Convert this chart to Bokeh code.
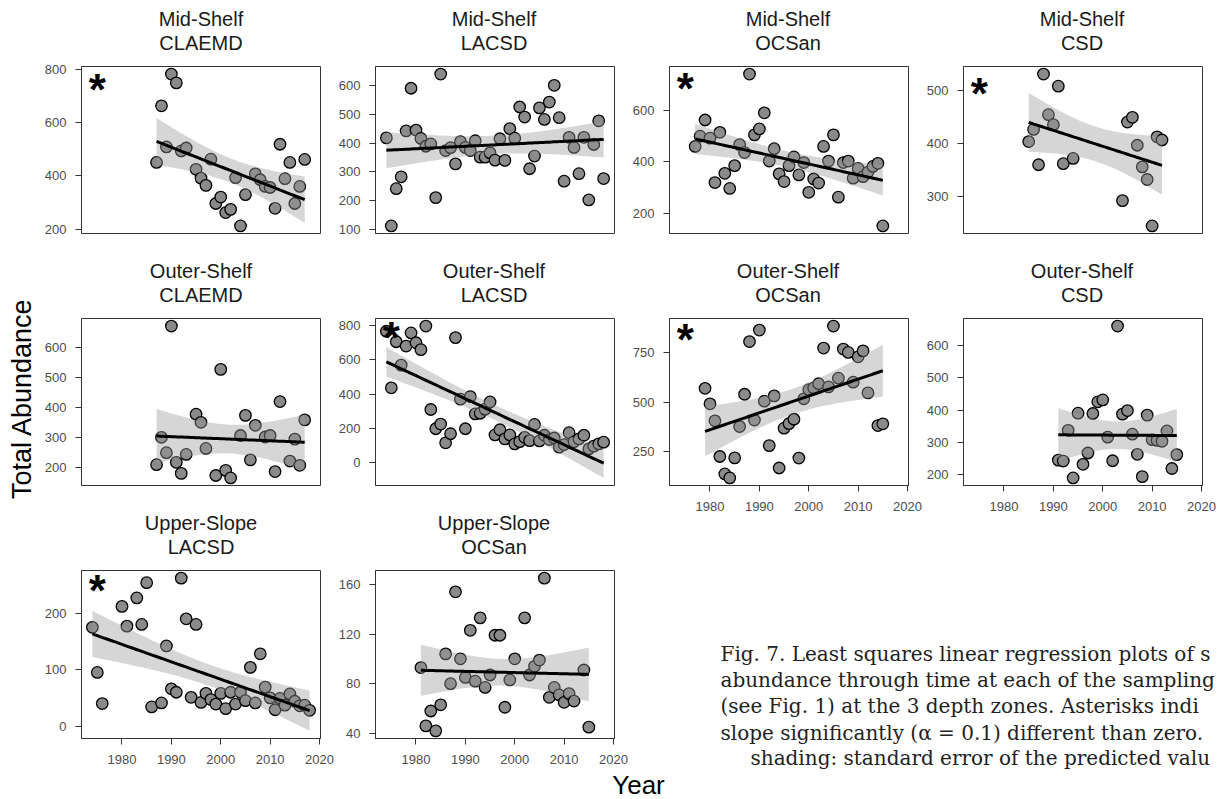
import numpy as np
from bokeh.plotting import figure
from bokeh.models import Range1d, FixedTicker
from bokeh.layouts import row, column
from bokeh.embed import file_html
from bokeh.resources import INLINE
from bokeh.core.properties import value

# ---------------- data: total abundance by year ----------------
ms_claemd_year = [1987, 1988, 1989, 1990, 1991, 1992, 1993, 1995, 1996, 1997, 1998, 1999, 2000, 2001,
                  2002, 2003, 2004, 2005, 2007, 2008, 2009, 2010, 2011, 2012, 2013, 2014, 2015, 2016, 2017]
ms_claemd_abund = [450, 662, 508, 781, 748, 493, 504, 424, 391, 364, 462, 296, 320, 262,
                   274, 393, 212, 329, 407, 385, 360, 356, 278, 518, 389, 450, 296, 360, 461]

ms_lacsd_year = list(range(1974, 2019))
ms_lacsd_abund = [418, 113, 242, 283, 442, 590, 445, 416, 389, 397, 211, 639, 374, 384, 328,
                  405, 385, 374, 408, 351, 351, 366, 341, 415, 340, 450, 417, 525, 490, 311,
                  355, 522, 482, 542, 600, 488, 268, 420, 385, 294, 420, 203, 395, 477, 277]

ms_ocsan_year = list(range(1977, 2016))
ms_ocsan_abund = [460, 500, 563, 492, 319, 515, 355, 296, 385, 467, 436, 742, 505, 528, 591,
                  403, 451, 353, 323, 385, 419, 349, 397, 281, 333, 317, 460, 403, 505, 262,
                  397, 403, 336, 374, 342, 360, 382, 394, 150]

ms_csd_year = [1985, 1986, 1987, 1988, 1989, 1990, 1991, 1992, 1994,
               2004, 2005, 2006, 2007, 2008, 2009, 2010, 2011, 2012]
ms_csd_abund = [404, 427, 360, 532, 455, 436, 509, 362, 372,
                292, 441, 450, 397, 356, 332, 244, 413, 407]

os_claemd_year = [1987, 1988, 1989, 1990, 1991, 1992, 1993, 1995, 1996, 1997, 1999, 2000, 2001,
                  2002, 2004, 2005, 2006, 2007, 2009, 2010, 2011, 2012, 2014, 2015, 2016, 2017]
os_claemd_abund = [210, 301, 250, 671, 218, 181, 244, 378, 351, 264, 174, 527, 191,
                   166, 307, 374, 226, 341, 302, 307, 187, 420, 222, 295, 208, 359]

os_lacsd_year = list(range(1974, 2019))
os_lacsd_abund = [766, 437, 705, 569, 680, 756, 699, 659, 796, 311, 199, 226, 117, 170, 729,
                  371, 199, 386, 285, 289, 313, 355, 163, 193, 140, 163, 111, 124, 149, 130,
                  224, 128, 161, 136, 145, 92, 107, 176, 123, 140, 161, 82, 98, 111, 121]

os_ocsan_year = list(range(1979, 2013)) + [2014, 2015]
os_ocsan_abund = [569, 491, 405, 225, 137, 117, 218, 376, 539, 805, 409, 863, 504, 280, 531,
                  167, 368, 391, 413, 217, 516, 562, 571, 592, 772, 576, 883, 620, 767, 750,
                  600, 728, 758, 546, 381, 390]

os_csd_year = list(range(1991, 2016))
os_csd_abund = [246, 243, 338, 191, 391, 233, 268, 390, 426, 432, 317, 244, 660, 388, 399,
                326, 264, 195, 385, 309, 307, 304, 336, 220, 263]

us_lacsd_year = [1974, 1975, 1976, 1980, 1981, 1983, 1984, 1985, 1986, 1988, 1989] + list(range(1990, 2019))
us_lacsd_abund = [175, 95, 40, 212, 177, 227, 180, 254, 34, 41, 142,
                  66, 60, 262, 190, 51, 180, 42, 58, 47, 39, 58, 31, 60, 39, 60, 45, 104, 41,
                  128, 69, 50, 29, 49, 37, 57, 44, 36, 37, 28]

us_ocsan_year = list(range(1981, 2001)) + list(range(2002, 2013)) + [2014, 2015]
us_ocsan_abund = [93, 46, 58, 42, 63, 104, 80, 154, 100, 85, 123, 82, 133, 77, 87, 119, 119,
                  61, 83, 100, 133, 87, 94, 99, 165, 69, 77, 71, 65, 72, 66, 91, 45]

zones = ["Mid-Shelf", "Outer-Shelf", "Upper-Slope"]
sites = ["CLAEMD", "LACSD", "OCSan", "CSD"]
year_ticks = [1980, 1990, 2000, 2010, 2020]

caption_lines = [
    "Fig. 7. Least squares linear regression plots of s",
    "abundance through time at each of the sampling",
    "(see Fig. 1) at the 3 depth zones. Asterisks indi",
    "slope significantly (\u03b1 = 0.1) different than zero.",
    "shading: standard error of the predicted valu",
]

# ---------------- styling / geometry ----------------
SANS = "Liberation Sans"
SERIF = "DejaVu Serif"
FRAME_W = 239
AX_COL = "#333333"
LAB_COL = "#4d4d4d"
PAGE_W, PAGE_H = 1219, 799
YEAR_H = 30
BODY_H = PAGE_H - YEAR_H
STRIP_H = 63
PANEL_TOP = 3  # small top border so the frame outline is not clipped
YLAB_W = 40

all_years = (ms_claemd_year + ms_lacsd_year + ms_ocsan_year + ms_csd_year + os_claemd_year +
             os_lacsd_year + os_ocsan_year + os_csd_year + us_lacsd_year + us_ocsan_year)
yr_span = max(all_years) - min(all_years)
X_LO = min(all_years) - 0.05 * yr_span
X_HI = max(all_years) + 0.05 * yr_span


def t975(df):
    """Student t 97.5% quantile (Cornish-Fisher expansion)."""
    z = 1.959963985
    g1 = (z ** 3 + z) / 4
    g2 = (5 * z ** 5 + 16 * z ** 3 + 3 * z) / 96
    g3 = (3 * z ** 7 + 19 * z ** 5 + 17 * z ** 3 - 15 * z) / 384
    return z + g1 / df + g2 / df ** 2 + g3 / df ** 3


def ols_fit(x, y, n=80):
    x = np.asarray(x, float)
    y = np.asarray(y, float)
    N = len(x)
    xb, yb = x.mean(), y.mean()
    sxx = ((x - xb) ** 2).sum()
    b = ((x - xb) * (y - yb)).sum() / sxx
    a = yb - b * xb
    s = np.sqrt(((y - (a + b * x)) ** 2).sum() / (N - 2))
    xs = np.linspace(x.min(), x.max(), n)
    fit = a + b * xs
    se = s * np.sqrt(1.0 / N + (xs - xb) ** 2 / sxx)
    t = t975(N - 2)
    return xs, fit, fit - t * se, fit + t * se


def blank(w, h, xr=None):
    f = figure(width=w, height=h, x_range=xr or Range1d(0, w), y_range=Range1d(0, h),
               output_backend="svg", toolbar_location=None, title=None,
               x_axis_location=None, y_axis_location=None, min_border=0)
    f.outline_line_color = None
    f.xgrid.visible = False
    f.ygrid.visible = False
    f.background_fill_color = "white"
    f.border_fill_color = "white"
    return f


def strip(zone, site, width):
    """Two-line facet heading; its frame lines up with the panel below it."""
    s = blank(width, STRIP_H, xr=Range1d(0, 1))
    s.text(x=[0.5, 0.5], y=[23.5 - PANEL_TOP, 47.5 - PANEL_TOP], text=[site, zone],
           text_font=value(SANS), text_font_size="20px", text_color="#1a1a1a",
           text_align="center", text_baseline="middle")
    return s


def panel(zone, site, years, abund, yticks, sig, xaxis, left, right, bottom, frame_h=167):
    xs, fit, lo, hi = ols_fit(years, abund)
    ymin = min(min(abund), lo.min())
    ymax = max(max(abund), hi.max())
    pad = 0.05 * (ymax - ymin)
    p = figure(frame_width=FRAME_W, frame_height=frame_h,
               x_range=Range1d(X_LO, X_HI), y_range=Range1d(ymin - pad, ymax + pad),
               output_backend="svg", toolbar_location=None, title=None,
               x_axis_location="below" if xaxis else None,
               min_border_left=left, min_border_right=right,
               min_border_top=PANEL_TOP, min_border_bottom=bottom)
    p.background_fill_color = "white"
    p.border_fill_color = "white"
    p.outline_line_color = AX_COL
    p.outline_line_width = 1
    p.xgrid.visible = False
    p.ygrid.visible = False

    for ax in p.yaxis:
        ax.ticker = FixedTicker(ticks=yticks)
        ax.major_label_standoff = 9
    if xaxis:
        for ax in p.xaxis:
            ax.ticker = FixedTicker(ticks=year_ticks)
            ax.major_label_standoff = 10
    for ax in p.axis:
        ax.axis_line_color = AX_COL
        ax.major_tick_line_color = AX_COL
        ax.major_tick_out = 6
        ax.major_tick_in = 0
        ax.minor_tick_line_color = None
        ax.major_label_text_font = SANS
        ax.major_label_text_font_size = "13px"
        ax.major_label_text_color = LAB_COL

    p.scatter(years, abund, size=11.5, fill_color="#8a8a8a", line_color="black", line_width=1.3)
    p.varea(x=xs, y1=lo, y2=hi, fill_color="#999999", fill_alpha=0.4)
    p.line(xs, fit, line_color="black", line_width=3)

    if sig:
        p.text(x=[min(all_years) + 1], y=[0.95 * max(abund)], text=["*"],
               text_font=value(SANS), text_font_style="bold", text_font_size="44px",
               text_align="center", text_baseline="middle", y_offset=5, text_color="black")

    return column(strip(zone, site, left + FRAME_W + right), p)


ROW_H = STRIP_H + PANEL_TOP + 167 + 19          # one headed panel without x axis
LAST_BOTTOM = BODY_H - 2 * ROW_H - STRIP_H - PANEL_TOP - 168
P7_BOTTOM = 45

col1 = column(
    panel(zones[0], sites[0], ms_claemd_year, ms_claemd_abund, [200, 400, 600, 800], True, False, 41, 15, 19),
    panel(zones[1], sites[0], os_claemd_year, os_claemd_abund, [200, 300, 400, 500, 600], False, False, 41, 15, 19),
    panel(zones[2], sites[1], us_lacsd_year, us_lacsd_abund, [0, 100, 200], True, True, 41, 15, LAST_BOTTOM, 168),
)
col2 = column(
    panel(zones[0], sites[1], ms_lacsd_year, ms_lacsd_abund, [100, 200, 300, 400, 500, 600], False, False, 38, 15, 19),
    panel(zones[1], sites[1], os_lacsd_year, os_lacsd_abund, [0, 200, 400, 600, 800], True, False, 38, 15, 19),
    panel(zones[2], sites[2], us_ocsan_year, us_ocsan_abund, [40, 80, 120, 160], False, True, 38, 15, LAST_BOTTOM, 168),
)

# figure caption beneath the two right-hand columns
CAP_W = PAGE_W - YLAB_W - (41 + FRAME_W + 15) - (38 + FRAME_W + 15)
CAP_X0 = PAGE_W - CAP_W
CAP_H = BODY_H - ROW_H - (STRIP_H + PANEL_TOP + 167 + P7_BOTTOM)
cap = blank(CAP_W, CAP_H)
cap_left = [718, 718, 718, 718, 748]
cap_base = [660, 686, 712.5, 739, 764.5]
cap.text(x=[v - CAP_X0 for v in cap_left], y=[BODY_H - (b - 6.9) for b in cap_base], text=caption_lines,
         text_font=value(SERIF), text_font_size="20px", text_color="#222222",
         text_align="left", text_baseline="middle")

col34 = column(
    row(panel(zones[0], sites[2], ms_ocsan_year, ms_ocsan_abund, [200, 400, 600], True, False, 38, 15, 19),
        panel(zones[0], sites[3], ms_csd_year, ms_csd_abund, [300, 400, 500], True, False, 38, 23, 19)),
    row(panel(zones[1], sites[2], os_ocsan_year, os_ocsan_abund, [250, 500, 750], True, True, 38, 15, P7_BOTTOM),
        panel(zones[1], sites[3], os_csd_year, os_csd_abund, [200, 300, 400, 500, 600], False, True, 38, 23, P7_BOTTOM)),
    column(cap),
)

# shared y-axis title
ylab = blank(YLAB_W, BODY_H)
ylab.text(x=[21], y=[BODY_H - 398], text=["Total Abundance"], angle=np.pi / 2,
          text_font=value(SANS), text_font_size="27px", text_color="black",
          text_align="center", text_baseline="middle")

# shared x-axis title
xlab = blank(PAGE_W, YEAR_H)
xlab.text(x=[638], y=[PAGE_H - 784], text=["Year"], text_font=value(SANS), text_font_size="26px",
          text_color="black", text_align="center", text_baseline="middle")

page = column(row(ylab, col1, col2, col34), xlab)

open("out.html", "w").write(file_html(page, INLINE))
